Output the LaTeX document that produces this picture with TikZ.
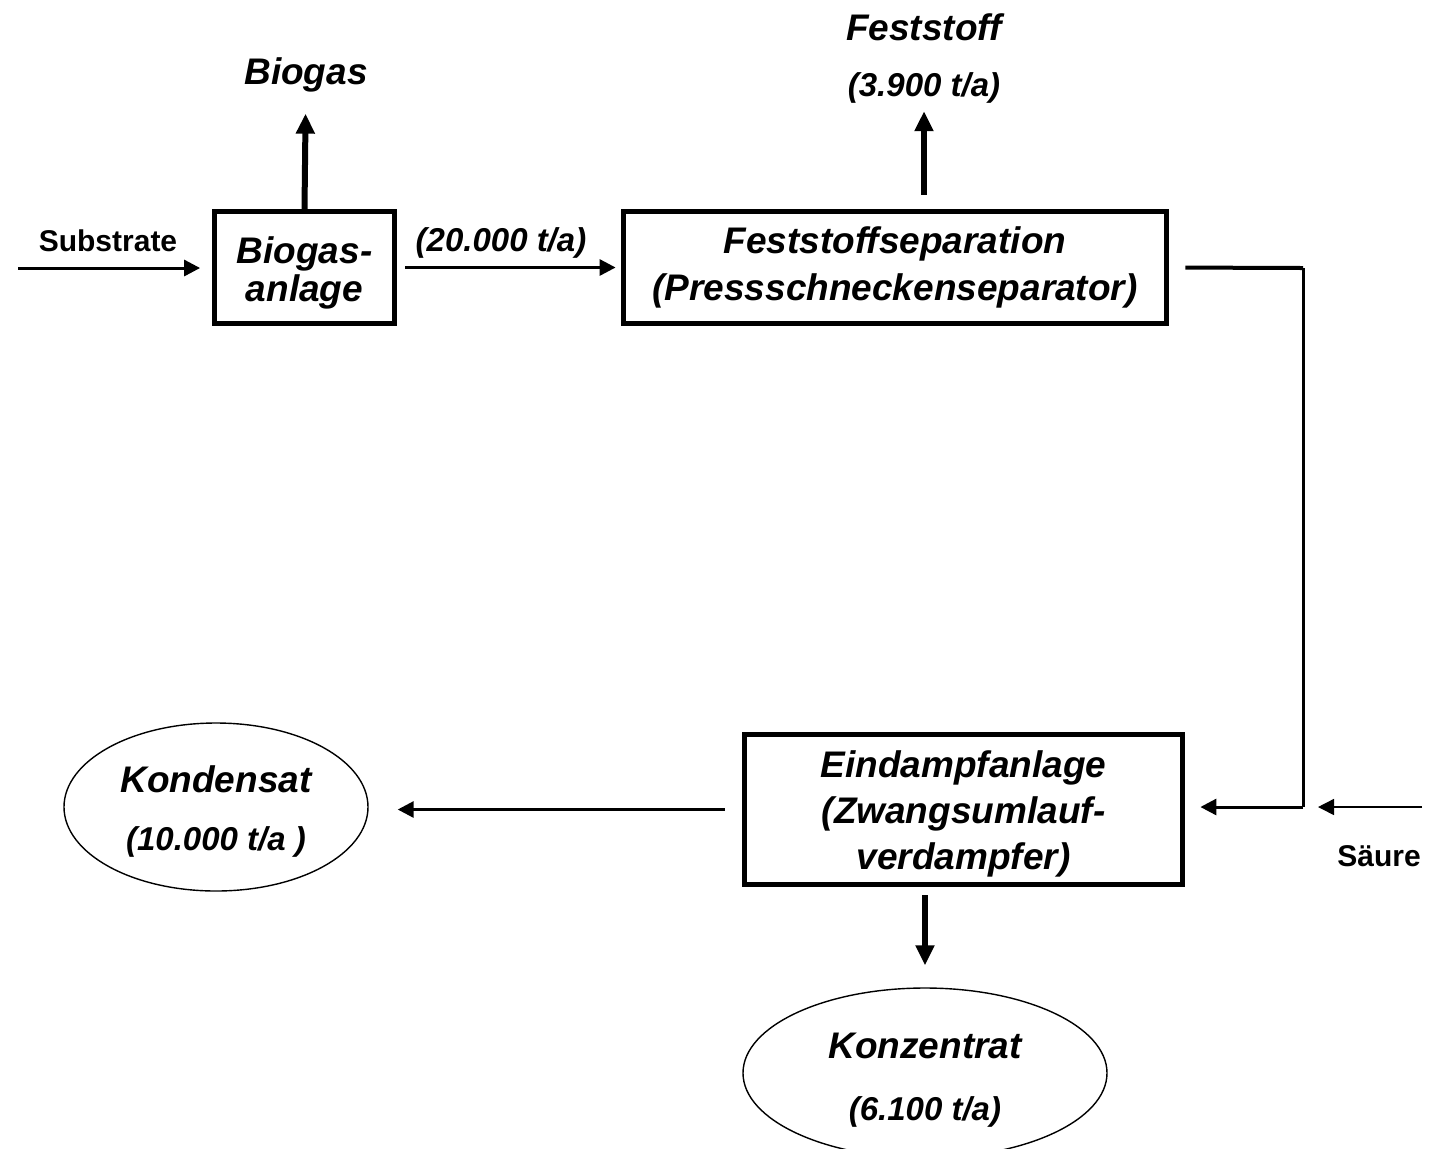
\documentclass[tikz,border=0pt]{standalone}
\usepackage{fontspec}
\setmainfont{Liberation Sans}
\usetikzlibrary{shapes,arrows.meta}

\newcommand{\bigfnt}{\fontsize{18.5}{23.5}\selectfont\bfseries\itshape}
\newcommand{\numfnt}{\fontsize{16.5}{20}\selectfont\bfseries\itshape}
\newcommand{\smlfnt}{\fontsize{15}{18}\selectfont\bfseries}

\begin{document}
\begin{tikzpicture}
  [x=0.5pt,y=0.5pt,
   procN/.style={rectangle,draw,line width=2.4pt,align=center,inner sep=0pt,font=\bigfnt},
   prodN/.style={ellipse,draw,line width=0.7pt,align=center,inner sep=0pt},
   labelN/.style={inner sep=0pt,align=center},
   strongA/.style={line width=3pt,-{Triangle[width=9pt,length=10pt]}},
   flowA/.style={line width=1.5pt,-{Triangle[width=8pt,length=8pt]}},
   thinA/.style={line width=0.75pt,-{Triangle[width=8pt,length=8pt]}}]

  \useasboundingbox (0,0) rectangle (1435,-1148);

  % process boxes
  \node[procN,minimum width=90pt,minimum height=56pt,
        font=\fontsize{18.5}{19}\selectfont\bfseries\itshape] (biogas) at (304.5,-267.5)
       {\rule{0pt}{19pt}Biogas-\\anlage};
  \node[procN,minimum width=271.5pt,minimum height=56pt] (sep) at (895,-267.5)
       {Feststoffseparation\\(Pressschneckenseparator)};
  \node[procN,minimum width=219pt,minimum height=75pt,
        font=\fontsize{18.5}{23}\selectfont\bfseries\itshape] (eind) at (963.5,-809.5)
       {\rule{0pt}{18pt}Eindampfanlage\\(Zwangsumlauf-\\verdampfer)};

  % products
  \node[prodN,minimum width=152pt,minimum height=84pt,
        font=\fontsize{18.5}{29}\selectfont\bfseries\itshape] (kond) at (216,-807)
       {\rule{0pt}{18pt}Kondensat\\{\fontsize{16.5}{29}\selectfont (10.000 t/a )}};
  \node[prodN,minimum width=182pt,minimum height=85pt,
        font=\fontsize{18.5}{31}\selectfont\bfseries\itshape] (konz) at (925,-1073)
       {\rule{0pt}{20pt}Konzentrat\\{\fontsize{16.5}{31}\selectfont (6.100 t/a)}};

  % labels
  \node[labelN,font=\bigfnt] (gas) at (306,-75) {Biogas};
  \node[labelN,font=\fontsize{18.5}{28}\selectfont\bfseries\itshape] (fest) at (924,-59)
       {Feststoff\\{\fontsize{16.5}{28}\selectfont (3.900 t/a)}};
  \node[labelN,font=\numfnt] (rate) at (501,-243) {(20.000 t/a)};
  \node[labelN,font=\smlfnt] (substr) at (108,-241) {Substrate};
  \node[labelN,font=\smlfnt] (acid) at (1379,-856) {Säure};

  \coordinate (subin) at (18,-268);
  \coordinate (acidin) at (1422,-807);
  \coordinate (bendT) at (1303,-268);
  \coordinate (bendB) at (1303,-807);

  % flows
  \draw[flowA,shorten >=6pt] (subin) -- (subin -| biogas.west);
  \draw[strongA,shorten >=10.5pt] (biogas.north) -- (gas);
  \draw[flowA,shorten <=4.25pt,shorten >=2.75pt] (biogas.east) -- (sep.west);
  \draw[strongA,shorten <=7.25pt,shorten >=3.5pt] (sep.north -| fest) -- (fest);
  \draw[line width=2pt,shorten <=8.25pt] (sep.east) -- (bendT);
  \draw[line width=1.5pt] (bendT) -- (bendB);
  \draw[flowA,shorten >=7.75pt] (bendB) -- (bendB -| eind.east);
  \draw[thinA,shorten >=7.5pt] (acidin) -- (bendB);
  \draw[flowA,shorten <=8.75pt,shorten >=14.5pt] (eind.west) -- (eind.west -| kond.east);
  \draw[strongA,shorten <=4.25pt,shorten >=11pt] (eind.south -| konz) -- (konz.north);

\end{tikzpicture}
\end{document}
